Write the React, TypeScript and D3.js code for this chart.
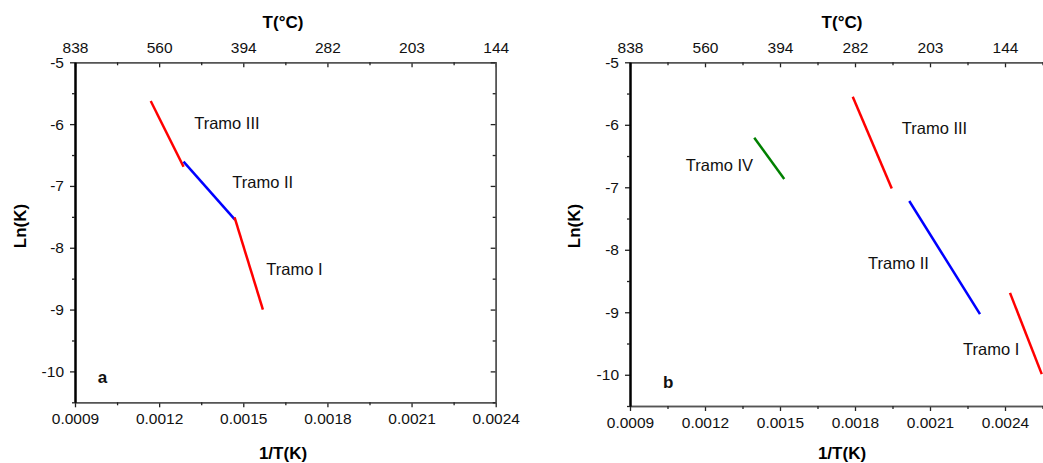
import React, { useEffect, useRef } from "react";
import * as d3 from "d3";

const xTicks = [0.0009, 0.0012, 0.0015, 0.0018, 0.0021, 0.0024];
const topLabels = ["838", "560", "394", "282", "203", "144"];
const yTicks = [-5, -6, -7, -8, -9, -10];

type Seg = { name: string; color: string; pts: [number, number][] };
type Note = { text: string; x: number; y: number; bold?: boolean };

// Panel a
const aTramoIII: [number, number][] = [[0.00117, -5.625], [0.001287, -6.69]];
const aTramoII: [number, number][] = [[0.001287, -6.606], [0.001471, -7.548]];
const aTramoI: [number, number][] = [[0.001469, -7.51], [0.00157, -9.0]];

// Panel b
const bTramoIV: [number, number][] = [[0.001397, -6.206], [0.001517, -6.867]];
const bTramoIII: [number, number][] = [[0.001791, -5.55], [0.001947, -7.02]];
const bTramoII: [number, number][] = [[0.002017, -7.22], [0.0023, -9.03]];
const bTramoI: [number, number][] = [[0.00242, -8.69], [0.002547, -9.99]];

const segsA: Seg[] = [
  { name: "III", color: "#ff0000", pts: aTramoIII },
  { name: "II", color: "#0000ff", pts: aTramoII },
  { name: "I", color: "#ff0000", pts: aTramoI },
];
const segsB: Seg[] = [
  { name: "IV", color: "#008000", pts: bTramoIV },
  { name: "III", color: "#ff0000", pts: bTramoIII },
  { name: "II", color: "#0000ff", pts: bTramoII },
  { name: "I", color: "#ff0000", pts: bTramoI },
];

const notesA: Note[] = [
  { text: "Tramo III", x: 0.001325, y: -5.98 },
  { text: "Tramo II", x: 0.001461, y: -6.934 },
  { text: "Tramo I", x: 0.001582, y: -8.34 },
  { text: "a", x: 0.000981, y: -10.1, bold: true },
];
const notesB: Note[] = [
  { text: "Tramo IV", x: 0.001123, y: -6.643 },
  { text: "Tramo III", x: 0.001987, y: -6.05 },
  { text: "Tramo II", x: 0.001852, y: -8.21 },
  { text: "Tramo I", x: 0.002232, y: -9.59 },
  { text: "b", x: 0.001032, y: -10.13, bold: true },
];

const FONT = "Arial, 'Liberation Sans', sans-serif";

type PanelProps = {
  x0: number; x1: number; xMax: number;
  y0: number; y1: number;
  segs: Seg[]; notes: Note[];
  rightAxis: boolean;
  yTitleX: number; xTitleX: number;
};

function Panel(p: PanelProps) {
  const ref = useRef<SVGGElement>(null);
  useEffect(() => {
    const g = d3.select(ref.current);
    g.selectAll("*").remove();
    const x = d3.scaleLinear().domain([0.0009, p.xMax]).range([p.x0, p.x1]);
    const y = d3.scaleLinear().domain([-10.5, -5]).range([p.y1, p.y0]);
    const gray = "#555";

    const majorX = xTicks.filter((t) => t <= p.xMax + 1e-9);
    const minorX = majorX.map((t) => t + 0.00015).filter((t) => t < p.xMax);
    const minorY = yTicks.map((t) => t - 0.5);

    // bottom axis
    const bottom = g.append("g").attr("transform", `translate(0,${p.y1})`);
    bottom.call(
      d3.axisBottom(x).tickValues(majorX).tickSizeInner(5).tickSizeOuter(0).tickPadding(6)
        .tickFormat((d: any) => d3.format(".4f")(d))
    );
    bottom.append("g").call(d3.axisBottom(x).tickValues(minorX).tickSizeInner(3).tickSizeOuter(0).tickFormat(() => ""));

    // top axis
    const top = g.append("g").attr("transform", `translate(0,${p.y0})`);
    top.call(
      d3.axisTop(x).tickValues(majorX).tickSizeInner(-5).tickSizeOuter(0).tickPadding(9)
        .tickFormat((d: any) => topLabels[xTicks.indexOf(d)])
    );
    top.append("g").call(d3.axisTop(x).tickValues(minorX).tickSizeInner(-3).tickSizeOuter(0).tickFormat(() => ""));

    // left axis
    const left = g.append("g").attr("transform", `translate(${p.x0},0)`);
    left.call(
      d3.axisLeft(y).tickValues(yTicks).tickSizeInner(5).tickSizeOuter(0).tickPadding(6)
        .tickFormat((d: any) => String(d))
    );
    left.append("g").call(d3.axisLeft(y).tickValues(minorY).tickSizeInner(3).tickSizeOuter(0).tickFormat(() => ""));

    if (p.rightAxis) {
      const right = g.append("g").attr("transform", `translate(${p.x1},0)`);
      right.call(d3.axisRight(y).tickValues(yTicks).tickSizeInner(-5).tickSizeOuter(0).tickFormat(() => ""));
      right.append("g").call(d3.axisRight(y).tickValues(minorY).tickSizeInner(-3).tickSizeOuter(0).tickFormat(() => ""));
      right.selectAll(".domain").attr("stroke", gray).attr("stroke-width", 1.5);
    }

    [bottom, top].forEach((a) => a.selectAll(".domain").attr("stroke", gray).attr("stroke-width", 1.5));
    left.selectAll(".domain").attr("stroke", "#000").attr("stroke-width", 2);
    g.selectAll(".tick line").attr("stroke", "#222").attr("stroke-width", 1.3);
    g.selectAll(".tick text").attr("font-family", FONT).attr("font-size", 15.5).attr("fill", "#111");

    // lines
    const line = d3.line<[number, number]>().x((d) => x(d[0])).y((d) => y(d[1]));
    p.segs.forEach((s) => {
      g.append("path").attr("d", line(s.pts)).attr("fill", "none").attr("stroke", s.color).attr("stroke-width", 2.5);
    });

    // notes
    p.notes.forEach((n) => {
      g.append("text").attr("x", x(n.x)).attr("y", y(n.y)).attr("dominant-baseline", "central")
        .attr("font-family", FONT).attr("font-size", n.bold ? 17 : 16.5)
        .attr("font-weight", n.bold ? "bold" : "normal").attr("fill", "#111").text(n.text);
    });

    // titles
    g.append("text").attr("x", p.xTitleX).attr("y", 28).attr("text-anchor", "middle")
      .attr("font-family", FONT).attr("font-weight", "bold").attr("font-size", 17).text("T(°C)");
    g.append("text").attr("x", p.xTitleX).attr("y", 459).attr("text-anchor", "middle")
      .attr("font-family", FONT).attr("font-weight", "bold").attr("font-size", 17).text("1/T(K)");
    g.append("text").attr("transform", `translate(${p.yTitleX},226) rotate(-90)`).attr("text-anchor", "middle")
      .attr("dominant-baseline", "central")
      .attr("font-family", FONT).attr("font-weight", "bold").attr("font-size", 17).text("Ln(K)");
  }, []);
  return <g ref={ref} />;
}

export default function App() {
  return (
    <svg width={1043} height={463} style={{ position: "absolute", left: 0, top: 0, background: "#fff" }}>
      <rect x={0} y={0} width={1043} height={463} fill="#fff" />
      <Panel x0={75} x1={495.7} xMax={0.0024} y0={62.3} y1={402.3} segs={segsA} notes={notesA}
        rightAxis={true} yTitleX={20} xTitleX={283} />
      <Panel x0={630} x1={1080} xMax={0.0027} y0={62.3} y1={406} segs={segsB} notes={notesB}
        rightAxis={false} yTitleX={574} xTitleX={842} />
    </svg>
  );
}
